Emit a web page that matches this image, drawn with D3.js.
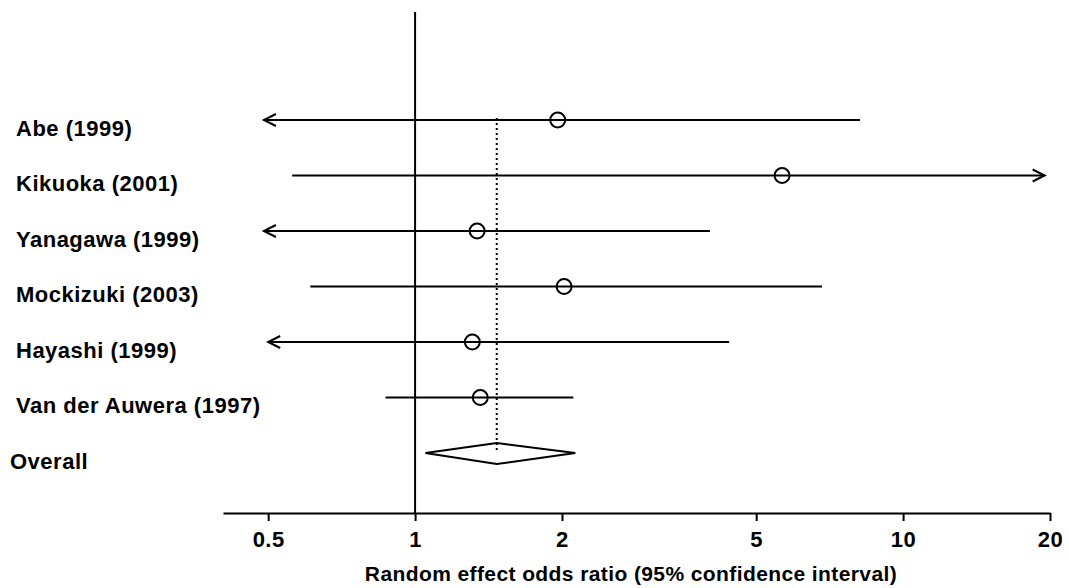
<!DOCTYPE html>
<html>
<head>
<meta charset="utf-8">
<script src="https://cdn.jsdelivr.net/npm/d3@7"></script>
<style>
  html, body { margin: 0; padding: 0; background: #fff; }
  svg { display: block; }
  text { font-family: "Liberation Sans", Arial, sans-serif; font-weight: bold; fill: #000; }
</style>
</head>
<body>
<svg id="chart" width="1069" height="588"></svg>
<script>
// ---- data ----
const studies = ["Abe (1999)", "Kikuoka (2001)", "Yanagawa (1999)", "Mockizuki (2003)", "Hayashi (1999)", "Van der Auwera (1997)"];
const oddsRatio = [1.96, 5.65, 1.34, 2.02, 1.31, 1.36];
const ciLower   = [0.49, 0.56, 0.49, 0.61, 0.50, 0.87];
const ciUpper   = [8.16, 19.5, 4.02, 6.82, 4.40, 2.11];
const arrowLeft  = [true, false, true, false, true, false];
const arrowRight = [false, true, false, false, false, false];
const overallLabel = "Overall";
const overallEstimate = [1.05, 1.47, 2.13]; // lower, OR, upper
const tickValues = [0.5, 1, 2, 5, 10, 20];
const tickLabels = ["0.5", "1", "2", "5", "10", "20"];
const axisTitle = "Random effect odds ratio (95% confidence interval)";

// ---- layout ----
const svg = d3.select("#chart");
const x = d3.scaleLog().domain([0.404, 20]).range([223, 1050]);
const rowKeys = studies.concat([overallLabel]);
const y = d3.scalePoint().domain(rowKeys).range([120, 453]);
const axisY = 513;

// reference line at OR = 1
svg.append("line")
  .attr("x1", x(1)).attr("x2", x(1))
  .attr("y1", 12).attr("y2", axisY)
  .attr("stroke", "#000").attr("stroke-width", 2);

// dotted line at overall estimate
svg.append("line")
  .attr("x1", x(overallEstimate[1])).attr("x2", x(overallEstimate[1]))
  .attr("y1", y(studies[0]) - 2).attr("y2", y(overallLabel))
  .attr("stroke", "#000").attr("stroke-width", 2)
  .attr("stroke-dasharray", "2,3");

// study rows
const rows = svg.selectAll("g.row").data(studies.map((s, i) => ({
  name: s, or: oddsRatio[i], lo: ciLower[i], hi: ciUpper[i], al: arrowLeft[i], ar: arrowRight[i]
}))).enter().append("g").attr("class", "row");

rows.append("text")
  .attr("x", 16).attr("y", d => y(d.name) + 8)
  .attr("dy", "0.36em")
  .style("font-size", "22px")
  .style("letter-spacing", "0.5px")
  .text(d => d.name);

rows.append("line")
  .attr("x1", d => x(d.lo)).attr("x2", d => x(d.hi))
  .attr("y1", d => y(d.name)).attr("y2", d => y(d.name))
  .attr("stroke", "#000").attr("stroke-width", 2);

rows.filter(d => d.al).append("path")
  .attr("d", d => {
    const px = x(d.lo), py = y(d.name);
    return `M${px + 12},${py - 6} L${px},${py} L${px + 12},${py + 6}`;
  })
  .attr("fill", "none").attr("stroke", "#000").attr("stroke-width", 2);

rows.filter(d => d.ar).append("path")
  .attr("d", d => {
    const px = x(d.hi), py = y(d.name);
    return `M${px - 12},${py - 6} L${px},${py} L${px - 12},${py + 6}`;
  })
  .attr("fill", "none").attr("stroke", "#000").attr("stroke-width", 2);

rows.append("circle")
  .attr("cx", d => x(d.or)).attr("cy", d => y(d.name))
  .attr("r", 7.5)
  .attr("fill", "none").attr("stroke", "#000").attr("stroke-width", 2);

// overall row
svg.append("text")
  .attr("x", 10).attr("y", y(overallLabel) + 8)
  .attr("dy", "0.36em")
  .style("font-size", "22px")
  .style("letter-spacing", "0.5px")
  .text(overallLabel);

const yc = y(overallLabel);
svg.append("path")
  .attr("d", `M${x(overallEstimate[0])},${yc} L${x(overallEstimate[1])},${yc - 10} L${x(overallEstimate[2])},${yc} L${x(overallEstimate[1])},${yc + 11} Z`)
  .attr("fill", "#fff").attr("stroke", "#000").attr("stroke-width", 2);
svg.append("line")
  .attr("x1", x(overallEstimate[1])).attr("x2", x(overallEstimate[1]))
  .attr("y1", yc - 10).attr("y2", yc)
  .attr("stroke", "#000").attr("stroke-width", 2)
  .attr("stroke-dasharray", "2,3");

// axis
const axis = d3.axisBottom(x)
  .tickValues(tickValues)
  .tickFormat((d, i) => tickLabels[i])
  .tickSize(8)
  .tickSizeOuter(0)
  .tickPadding(10);

const ga = svg.append("g").attr("transform", `translate(0,${axisY})`).call(axis);
ga.select(".domain").attr("stroke", "#000").attr("stroke-width", 2);
ga.selectAll(".tick line").attr("stroke", "#000").attr("stroke-width", 2);
ga.selectAll(".tick text")
  .style("font-size", "22px")
  .style("font-family", "'Liberation Sans', Arial, sans-serif")
  .style("font-weight", "bold")
  .style("letter-spacing", "0.5px")
  .attr("fill", "#000");

svg.append("text")
  .attr("x", 631).attr("y", 581)
  .attr("text-anchor", "middle")
  .style("font-size", "21px")
  .style("letter-spacing", "0.4px")
  .text(axisTitle);
</script>
</body>
</html>
